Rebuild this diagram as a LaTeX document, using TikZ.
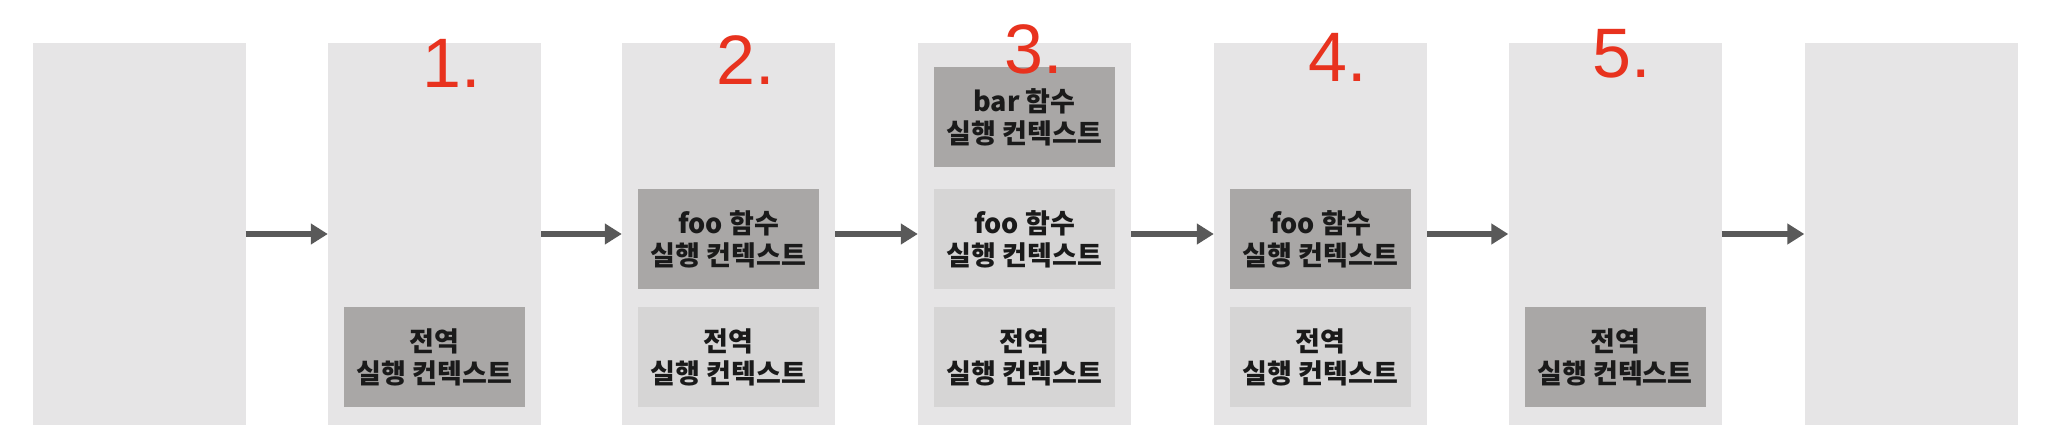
\documentclass[tikz,border=0pt]{standalone}
\usepackage{fontspec}
\usetikzlibrary{arrows.meta}
\newfontfamily\kr{Noto Sans CJK KR}
\definecolor{colbg}{HTML}{E6E5E6}
\definecolor{activebox}{HTML}{A9A7A6}
\definecolor{idlebox}{HTML}{D6D5D5}
\definecolor{arrowc}{HTML}{595959}
\definecolor{numred}{HTML}{E8321E}
\definecolor{txt}{HTML}{1A1A1A}
\tikzset{
  column/.style={fill=colbg, draw=none, minimum width=213pt, minimum height=382pt, inner sep=0pt},
  ctx/.style={draw=none, minimum width=181pt, minimum height=100pt, inner sep=0pt, align=center,
    text=txt, font=\kr\bfseries\fontsize{27}{32}\selectfont},
  activectx/.style={ctx, fill=activebox},
  idlectx/.style={ctx, fill=idlebox},
  flow/.style={draw=arrowc, line width=6pt, -{Triangle[length=17pt,width=20pt]}},
  stepnum/.style={text=numred, font=\fontspec{Liberation Sans}\fontsize{70}{70}\selectfont, inner sep=0pt}
}
\begin{document}
\begin{tikzpicture}[x=1pt,y=-1pt]
\fill[white] (0,0) rectangle (2048,445);
\useasboundingbox (0,0) rectangle (2048,445);
% columns
\node[column] (c1) at (139,234) {};
\node[column] (c2) at (434.5,234) {};
\node[column] (c3) at (728.5,234) {};
\node[column] (c4) at (1024.5,234) {};
\node[column] (c5) at (1320.5,234) {};
\node[column] (c6) at (1615,234) {};
\node[column] (c7) at (1911,234) {};
% arrows
\draw[flow] (c1.east) -- (c2.west);
\draw[flow] (c2.east) -- (c3.west);
\draw[flow] (c3.east) -- (c4.west);
\draw[flow] (c4.east) -- (c5.west);
\draw[flow] (c5.east) -- (c6.west);
\draw[flow] (c6.east) -- (c7.west);
% step 1
\node[activectx] (g1) at (434.5,357) {전역\\실행 컨텍스트};
% step 2
\node[activectx] (f2) at (728.5,239) {foo 함수\\실행 컨텍스트};
\node[idlectx] (g2) at (728.5,357) {전역\\실행 컨텍스트};
% step 3
\node[activectx] (b3) at (1024.5,117) {bar 함수\\실행 컨텍스트};
\node[idlectx] (f3) at (1024.5,239) {foo 함수\\실행 컨텍스트};
\node[idlectx] (g3) at (1024.5,357) {전역\\실행 컨텍스트};
% step 4
\node[activectx] (f4) at (1320.5,239) {foo 함수\\실행 컨텍스트};
\node[idlectx] (g4) at (1320.5,357) {전역\\실행 컨텍스트};
% step 5
\node[activectx] (g5) at (1615,357) {전역\\실행 컨텍스트};
% numbers
\node[stepnum] (n1) at (452,63) {1.};
\node[stepnum] (n2) at (746,60) {2.};
\node[stepnum] (n3) at (1034,49) {3.};
\node[stepnum] (n4) at (1338,57) {4.};
\node[stepnum] (n5) at (1622,54) {5.};
\end{tikzpicture}
\end{document}
